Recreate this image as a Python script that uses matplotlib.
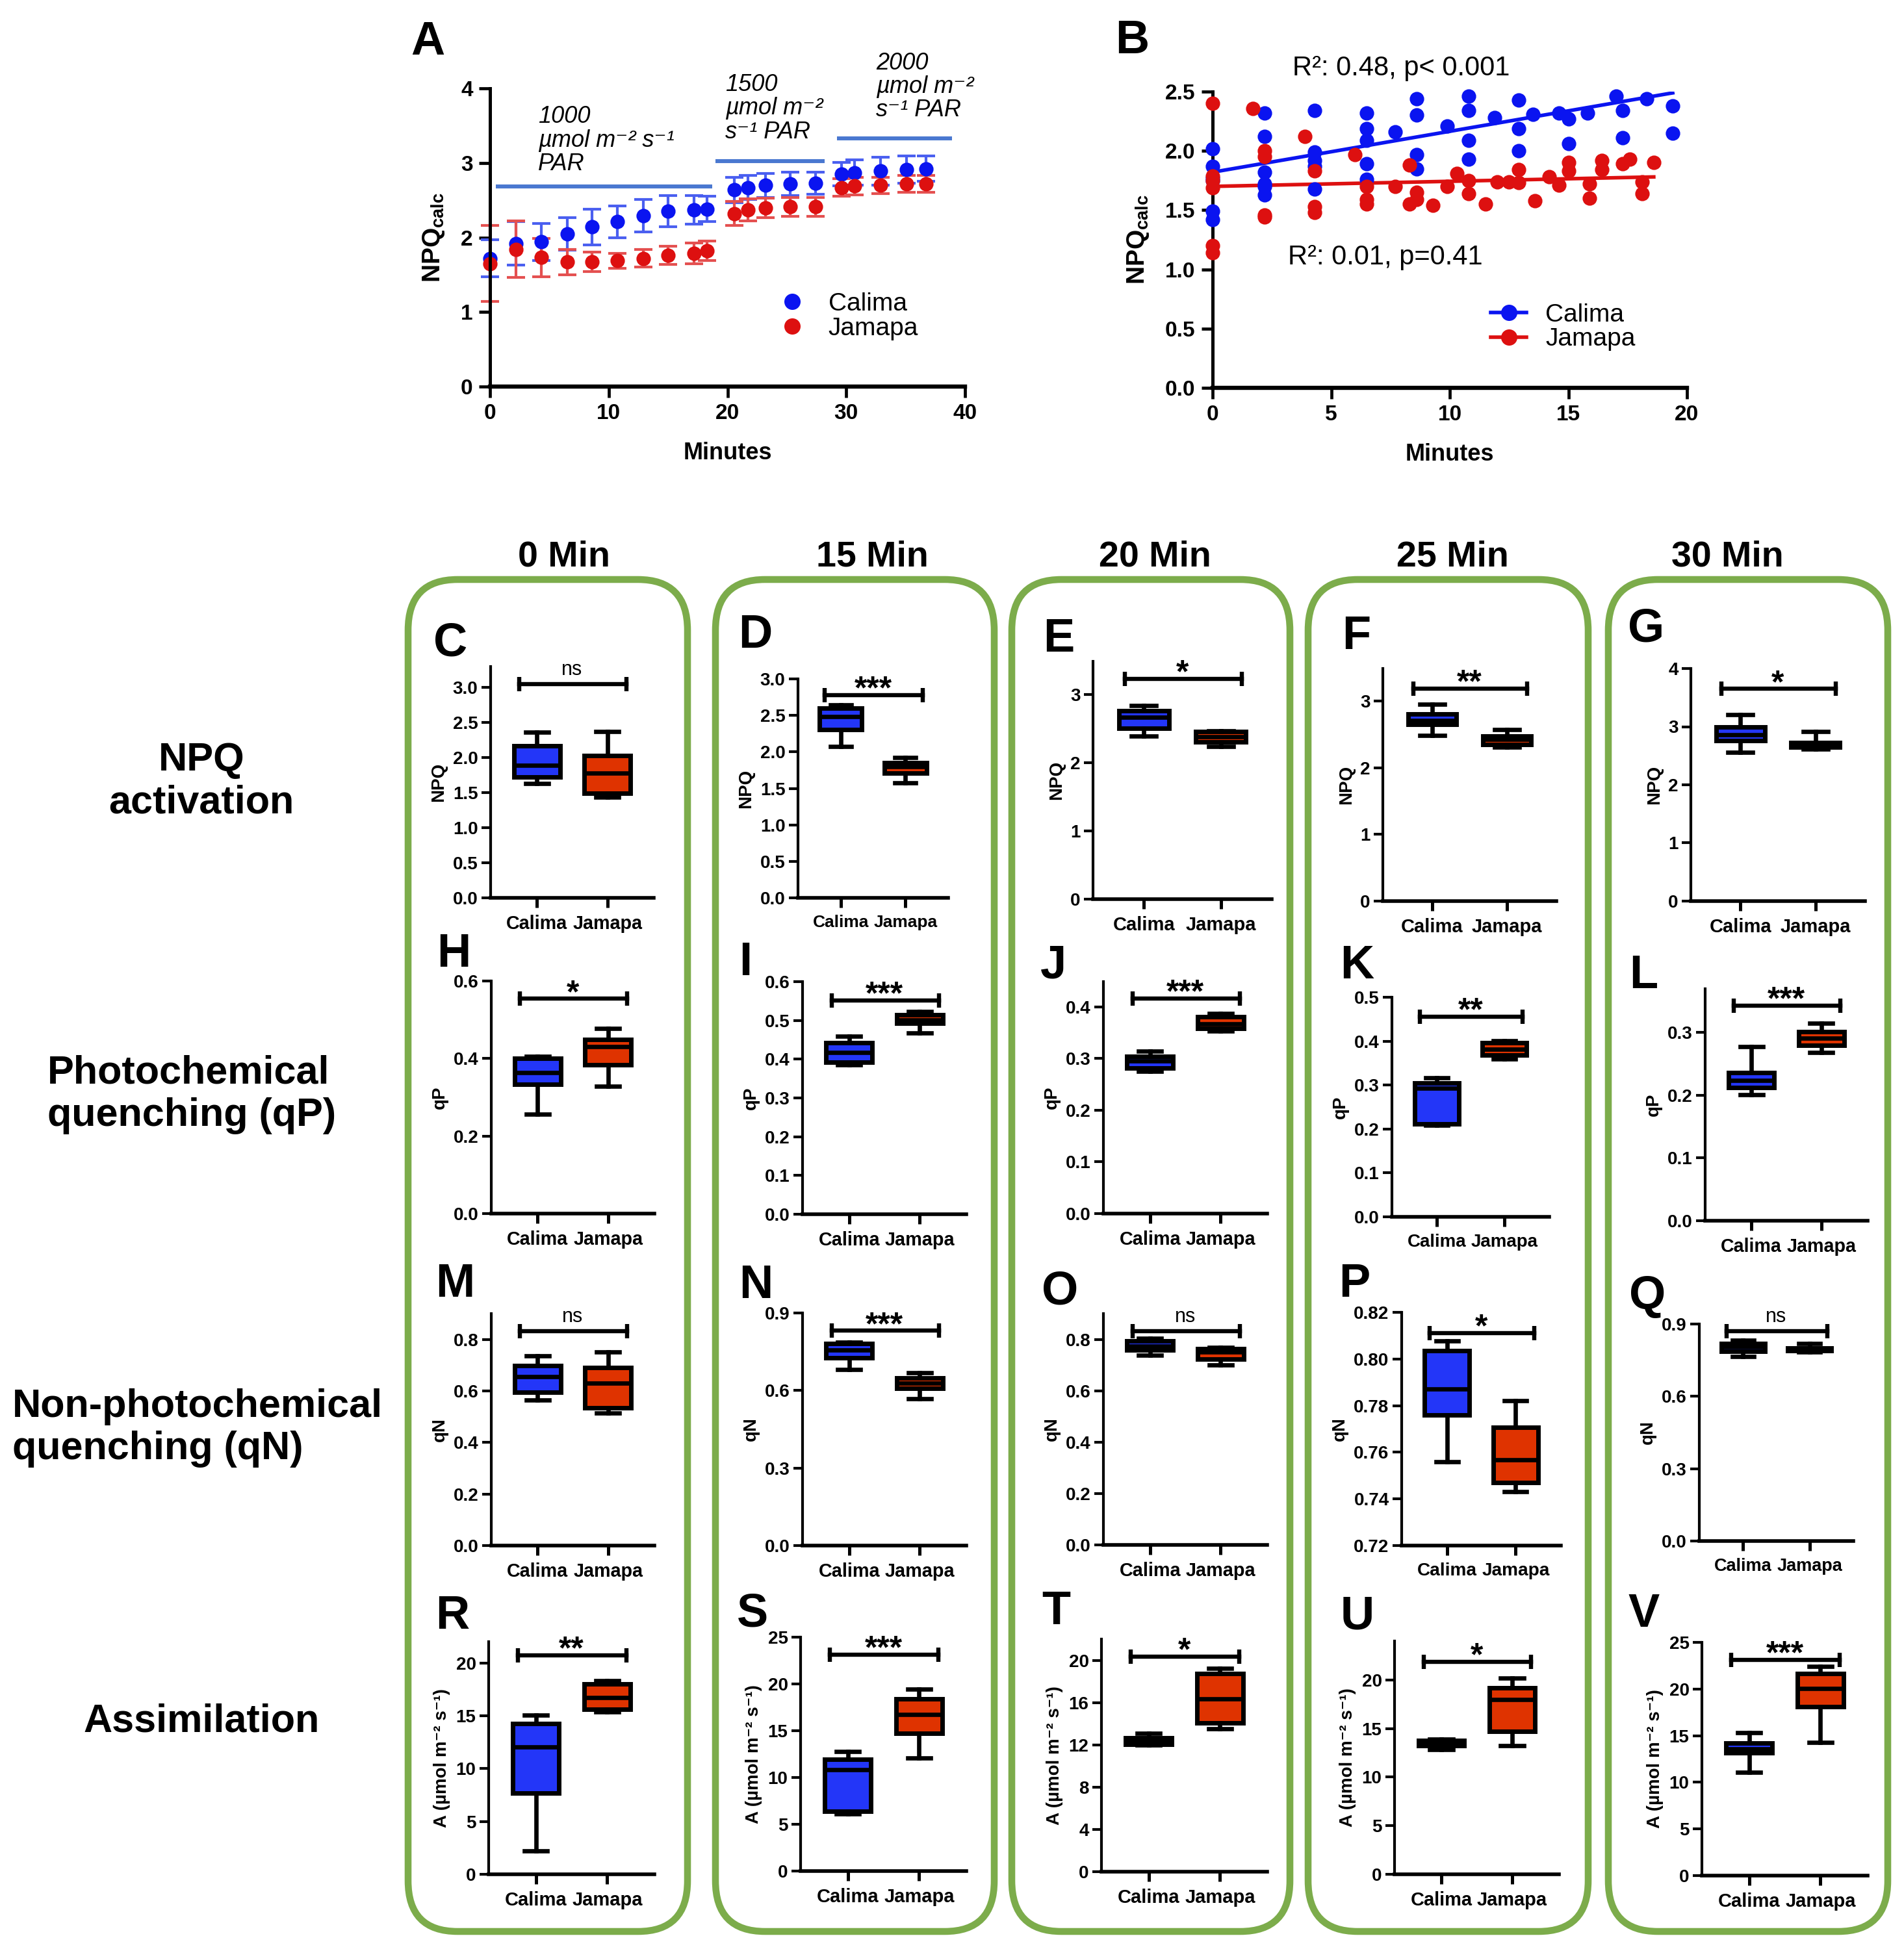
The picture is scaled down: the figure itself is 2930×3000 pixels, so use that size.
import numpy as np
import matplotlib
matplotlib.use('Agg')
import matplotlib.pyplot as plt
from matplotlib.lines import Line2D
from matplotlib.patches import FancyBboxPatch
from matplotlib.ticker import FormatStrFormatter

plt.rcParams['font.family'] = ['Liberation Sans', 'DejaVu Sans']
plt.rcParams['mathtext.fontset'] = 'custom'
plt.rcParams['mathtext.rm'] = 'Liberation Sans'
plt.rcParams['mathtext.it'] = 'Liberation Sans:italic'
plt.rcParams['mathtext.bf'] = 'Liberation Sans:bold'

# ---------------- data ----------------
# panel A: NPQ induction, mean +- error
time_a = [0, 2.2, 4.3, 6.5, 8.6, 10.7, 12.9, 15.0, 17.2, 18.3,
          20.6, 21.7, 23.2, 25.3, 27.4, 29.6, 30.7, 32.9, 35.1, 36.7]
calima_a = [1.72, 1.92, 1.94, 2.05, 2.14, 2.21, 2.29, 2.35, 2.37, 2.38,
            2.64, 2.67, 2.70, 2.72, 2.73, 2.85, 2.87, 2.89, 2.91, 2.92]
calima_a_err = [0.25, 0.29, 0.25, 0.22, 0.24, 0.21, 0.22, 0.21, 0.19, 0.17,
                0.17, 0.16, 0.16, 0.16, 0.15, 0.16, 0.17, 0.19, 0.18, 0.17]
jamapa_a = [1.65, 1.84, 1.73, 1.67, 1.67, 1.69, 1.72, 1.76, 1.79, 1.82,
            2.32, 2.37, 2.40, 2.41, 2.41, 2.67, 2.69, 2.70, 2.72, 2.72]
jamapa_a_err = [0.51, 0.38, 0.26, 0.17, 0.13, 0.10, 0.12, 0.12, 0.14, 0.13,
                0.16, 0.15, 0.13, 0.13, 0.13, 0.12, 0.12, 0.11, 0.11, 0.11]
par_start = [0.5, 19.0, 29.2]
par_end = [18.7, 28.2, 38.9]
par_level = [2.68, 3.02, 3.33]
par_text = ['1000\nµmol m⁻² s⁻¹\nPAR', '1500\nµmol m⁻²\ns⁻¹ PAR', '2000\nµmol m⁻²\ns⁻¹ PAR']
par_text_x = [4.06, 19.8, 32.5]
par_text_y = [3.77, 4.20, 4.49]

# panel B: individual NPQ values vs time
calima_b_t = [0, 0, 0, 0, 0, 0, 2.2, 2.2, 2.2, 2.2, 2.2, 2.2, 4.3, 4.3, 4.3, 4.3, 4.3,
              6.5, 6.5, 6.5, 6.5, 6.5, 7.7, 8.6, 8.6, 8.6, 8.6, 9.9, 10.8, 10.8, 10.8, 10.8,
              11.9, 12.9, 12.9, 12.9, 13.5, 14.6, 15.0, 15.0, 15.8, 17.0, 17.3, 17.3, 18.3,
              19.4, 19.4]
calima_b = [2.02, 1.87, 1.77, 1.75, 1.49, 1.42, 2.32, 2.12, 1.82, 1.72, 1.70, 1.63,
            2.34, 1.99, 1.92, 1.87, 1.68, 2.32, 2.19, 2.09, 1.89, 1.76, 2.16, 2.44, 2.30,
            1.97, 1.85, 2.21, 2.46, 2.34, 2.09, 1.93, 2.28, 2.43, 2.19, 2.00, 2.31, 2.32,
            2.27, 2.06, 2.32, 2.46, 2.34, 2.11, 2.44, 2.38, 2.15]
jamapa_b_t = [0, 0, 0, 0, 0, 0, 1.7, 2.2, 2.2, 2.2, 2.2, 3.9, 4.3, 4.3, 4.3, 6.0,
              6.5, 6.5, 6.5, 7.7, 8.3, 8.3, 8.6, 8.6, 9.3, 9.9, 10.3, 10.8, 10.8, 11.5,
              12.0, 12.5, 12.9, 12.9, 13.6, 14.2, 14.6, 15.0, 15.0, 15.9, 15.9, 16.4, 16.4,
              17.3, 17.6, 18.1, 18.1, 18.6]
jamapa_b = [2.40, 1.79, 1.75, 1.69, 1.20, 1.14, 2.36, 2.00, 1.95, 1.46, 1.44, 2.12,
            1.83, 1.53, 1.48, 1.97, 1.70, 1.59, 1.55, 1.70, 1.88, 1.55, 1.65, 1.59, 1.54,
            1.70, 1.81, 1.75, 1.64, 1.55, 1.74, 1.74, 1.84, 1.73, 1.58, 1.78, 1.71, 1.90,
            1.83, 1.72, 1.60, 1.92, 1.84, 1.89, 1.93, 1.74, 1.64, 1.90]
fit_intercept = [1.82, 1.70]
fit_slope = [0.0345, 0.0043]
fit_text = ['R²: 0.48, p< 0.001', 'R²: 0.01, p=0.41']

# panels C-V: box stats [whisker low, q1, median, q3, whisker high]
times = ['0 Min', '15 Min', '20 Min', '25 Min', '30 Min']
cultivars = ['Calima', 'Jamapa']
npq_calima = [[1.63, 1.72, 1.89, 2.17, 2.36], [2.07, 2.31, 2.48, 2.60, 2.64],
              [2.39, 2.51, 2.67, 2.77, 2.84], [2.49, 2.65, 2.71, 2.81, 2.95],
              [2.56, 2.76, 2.86, 2.99, 3.21]]
npq_jamapa = [[1.44, 1.49, 1.78, 2.03, 2.37], [1.58, 1.71, 1.80, 1.85, 1.92],
              [2.24, 2.31, 2.38, 2.46, 2.47], [2.31, 2.35, 2.43, 2.48, 2.57],
              [2.61, 2.65, 2.70, 2.73, 2.92]]
qp_calima = [[0.256, 0.334, 0.363, 0.400, 0.406], [0.386, 0.392, 0.418, 0.443, 0.459],
             [0.276, 0.282, 0.296, 0.304, 0.314], [0.209, 0.212, 0.293, 0.305, 0.317],
             [0.2006, 0.2115, 0.223, 0.2355, 0.277]]
qp_jamapa = [[0.329, 0.383, 0.430, 0.449, 0.477], [0.468, 0.493, 0.501, 0.515, 0.523],
             [0.354, 0.358, 0.367, 0.381, 0.387], [0.360, 0.369, 0.381, 0.396, 0.401],
             [0.268, 0.279, 0.290, 0.301, 0.314]]
qn_calima = [[0.564, 0.595, 0.656, 0.699, 0.735], [0.681, 0.7275, 0.756, 0.781, 0.7875],
             [0.739, 0.758, 0.774, 0.793, 0.803], [0.7560, 0.7760, 0.7871, 0.8037, 0.8077],
             [0.764, 0.788, 0.806, 0.8195, 0.833]]
qn_jamapa = [[0.514, 0.534, 0.630, 0.691, 0.752], [0.568, 0.608, 0.6275, 0.6475, 0.669],
             [0.700, 0.724, 0.751, 0.764, 0.768], [0.7431, 0.7471, 0.7569, 0.7708, 0.7820],
             [0.784, 0.790, 0.7955, 0.799, 0.8195]]
a_calima = [[2.23, 7.66, 12.04, 14.27, 15.08], [6.13, 6.38, 10.80, 11.92, 12.76],
            [11.96, 12.07, 12.35, 12.68, 13.07], [12.86, 13.21, 13.45, 13.74, 13.93],
            [11.10, 13.16, 13.56, 14.20, 15.32]]
a_jamapa = [[15.36, 15.58, 16.74, 17.99, 18.31], [12.09, 14.70, 16.73, 18.42, 19.41],
            [13.55, 14.05, 16.35, 18.73, 19.23], [13.21, 14.69, 17.98, 19.17, 20.17],
            [14.25, 18.12, 20.03, 21.65, 22.39]]
npq_sig = ['ns', '***', '*', '**', '*']
qp_sig = ['*', '***', '***', '**', '***']
qn_sig = ['ns', '***', 'ns', '*', 'ns']
a_sig = ['**', '***', '*', '*', '***']

row_names = ['NPQ\nactivation', 'Photochemical\nquenching (qP)',
             'Non-photochemical\nquenching (qN)', 'Assimilation']
row_ylabels = ['NPQ', 'qP', 'qN', 'A (µmol m⁻² s⁻¹)']
letters = ['CDEFG', 'HIJKL', 'MNOPQ', 'RSTUV']

# ---------------- layout (pixels of the 2930x3000 output) ----------------
W, H = 2930, 3000
BLUE, RED = '#2336f8', '#df3300'
DOT_BLUE, DOT_RED = '#0a14f0', '#dd1010'
GREEN = '#7cac4b'

fig = plt.figure(figsize=(W / 200, H / 200), dpi=200)


def rect(x0, x1, y0, y1):
    return [x0 / W, 1 - y0 / H, (x1 - x0) / W, (y0 - y1) / H]


def style_axes(ax, lw=1.6):
    for s in ['top', 'right']:
        ax.spines[s].set_visible(False)
    ax.spines['left'].set_linewidth(lw)
    ax.spines['bottom'].set_linewidth(lw + 0.5)


# green column frames
frame_x = [(623, 1063), (1096, 1535), (1552, 1990), (2008, 2449), (2470, 2910)]
for x0, x1 in frame_x:
    fb = FancyBboxPatch(((x0 + 5) / W, 1 - 2973 / H), (x1 - x0 - 10) / W, (2973 - 892) / H,
                        boxstyle='round,pad=0,rounding_size=0.026',
                        transform=fig.transFigure, facecolor='white', edgecolor=GREEN,
                        linewidth=3.8, zorder=0)
    fig.add_artist(fb)

title_x = [868, 1342, 1777, 2235, 2658]
for t, x in zip(times, title_x):
    fig.text(x / W, 1 - 858 / H, t, ha='center', va='center', fontsize=20, fontweight='bold')

fig.text(310 / W, 1 - 1203 / H, row_names[0], ha='center', va='center', fontsize=22,
         fontweight='bold', multialignment='center')
fig.text(73 / W, 1 - 1685 / H, row_names[1], ha='left', va='center', fontsize=22,
         fontweight='bold', multialignment='left')
fig.text(19 / W, 1 - 2198 / H, row_names[2], ha='left', va='center', fontsize=22,
         fontweight='bold', multialignment='left')
fig.text(310 / W, 1 - 2650 / H, row_names[3], ha='center', va='center', fontsize=22,
         fontweight='bold')

# ---------------- panel A ----------------
axA = fig.add_axes(rect(754, 1485, 595, 136))
axA.errorbar(time_a, calima_a, yerr=calima_a_err, fmt='o', color=DOT_BLUE, ecolor='#4a5ff0',
             ms=7, capsize=5, elinewidth=1.5, capthick=1.5, clip_on=False)
axA.errorbar(time_a, jamapa_a, yerr=jamapa_a_err, fmt='o', color=DOT_RED, ecolor='#e45050',
             ms=7, capsize=5, elinewidth=1.5, capthick=1.5, clip_on=False)
axA.hlines(par_level, par_start, par_end, color='#4a78d0', lw=2.2, clip_on=False)
for txt, x, y in zip(par_text, par_text_x, par_text_y):
    axA.text(x, y, txt, ha='left', va='top', fontsize=13, fontstyle='italic',
             linespacing=1.05, clip_on=False)
axA.set_xlim(0, 40)
axA.set_ylim(0, 4)
axA.set_xticks(np.arange(0, 41, 10))
axA.set_yticks(np.arange(0, 5, 1))
axA.tick_params(labelsize=12, width=1.7, length=6)
for lab in axA.get_xticklabels() + axA.get_yticklabels():
    lab.set_fontweight('bold')
axA.set_xlabel('Minutes', fontsize=13, fontweight='bold', labelpad=10)
axA.set_ylabel(r'$\mathbf{NPQ}_{\mathbf{calc}}$', fontsize=14, labelpad=8)
style_axes(axA, 1.8)
hA = [Line2D([], [], marker='o', ls='none', color=DOT_BLUE, ms=8),
      Line2D([], [], marker='o', ls='none', color=DOT_RED, ms=8)]
axA.legend(hA, cultivars, loc='center left', bbox_to_anchor=(0.561, 0.236), frameon=False,
           fontsize=14, handlelength=1.0, handletextpad=0.94, labelspacing=0.05, borderpad=0.4)
fig.text(632 / W, 1 - 31 / H, 'A', ha='left', va='top', fontsize=26, fontweight='bold')

# ---------------- panel B ----------------
axB = fig.add_axes(rect(1866, 2596, 597, 141))
axB.plot(calima_b_t, calima_b, 'o', color=DOT_BLUE, ms=7, clip_on=False, zorder=3)
axB.plot(jamapa_b_t, jamapa_b, 'o', color=DOT_RED, ms=7, clip_on=False, zorder=3)
for xs, b, m, c in zip([calima_b_t, jamapa_b_t], fit_intercept, fit_slope, [DOT_BLUE, DOT_RED]):
    xx = np.array([0, max(xs)])
    axB.plot(xx, b + m * xx, color=c, lw=2, zorder=2)
axB.text(3.36, 2.70, fit_text[0], ha='left', va='center', fontsize=15, clip_on=False)
axB.text(3.18, 1.10, fit_text[1], ha='left', va='center', fontsize=15)
axB.set_xlim(0, 20)
axB.set_ylim(0, 2.5)
axB.set_xticks(np.arange(0, 21, 5))
axB.set_yticks(np.arange(0, 2.51, 0.5))
axB.yaxis.set_major_formatter(FormatStrFormatter('%.1f'))
axB.tick_params(labelsize=12, width=1.7, length=6)
for lab in axB.get_xticklabels() + axB.get_yticklabels():
    lab.set_fontweight('bold')
axB.set_xlabel('Minutes', fontsize=13, fontweight='bold', labelpad=10)
axB.set_ylabel(r'$\mathbf{NPQ}_{\mathbf{calc}}$', fontsize=14, labelpad=8)
style_axes(axB, 1.8)
hB = [Line2D([], [], marker='o', ls='-', lw=2, color=DOT_BLUE, ms=8),
      Line2D([], [], marker='o', ls='-', lw=2, color=DOT_RED, ms=8)]
axB.legend(hB, cultivars, loc='center left', bbox_to_anchor=(0.539, 0.205), frameon=False,
           fontsize=14, handlelength=1.4, handletextpad=0.75, labelspacing=0.05, borderpad=0.4)
fig.text(1716 / W, 1 - 29 / H, 'B', ha='left', va='top', fontsize=26, fontweight='bold')

# ---------------- panels C-V ----------------
# axes rectangles: spine x, right end x, y of baseline, y of top
box_rects = [
    [(755, 1006, 1382, 1026), (1228, 1459, 1382, 1045), (1682, 1957, 1384, 1018),
     (2128, 2395, 1387, 1029), (2602, 2870, 1387, 1029)],
    [(756, 1007, 1868, 1510), (1235, 1487, 1869, 1511), (1698, 1950, 1868, 1511),
     (2142, 2384, 1873, 1535), (2624, 2874, 1879, 1522)],
    [(756, 1007, 2379, 2022), (1235, 1487, 2379, 2021), (1698, 1950, 2378, 2022),
     (2157, 2402, 2379, 2020), (2615, 2852, 2372, 2038)],
    [(752, 1007, 2885, 2527), (1232, 1487, 2880, 2520), (1695, 1950, 2881, 2523),
     (2146, 2399, 2885, 2526), (2619, 2874, 2887, 2528)],
]
# y limits and tick steps
box_ylims = [
    [(0, 3.30), (0, 3.0), (0, 3.49), (0, 3.49), (0, 4.0)],
    [(0, 0.6), (0, 0.6), (0, 0.449), (0, 0.5), (0, 0.369)],
    [(0, 0.9), (0, 0.9), (0, 0.9), (0.72, 0.82), (0, 0.9)],
    [(0, 22), (0, 25), (0, 22), (0, 24), (0, 25)],
]
box_ticks = [
    [(0, 3.0, 0.5), (0, 3.0, 0.5), (0, 3, 1), (0, 3, 1), (0, 4, 1)],
    [(0, 0.6, 0.2), (0, 0.6, 0.1), (0, 0.4, 0.1), (0, 0.5, 0.1), (0, 0.3, 0.1)],
    [(0, 0.8, 0.2), (0, 0.9, 0.3), (0, 0.8, 0.2), (0.72, 0.82, 0.02), (0, 0.9, 0.3)],
    [(0, 20, 5), (0, 25, 5), (0, 20, 4), (0, 20, 5), (0, 25, 5)],
]
box_fmt = [['%.1f', '%.1f', '%d', '%d', '%d'],
           ['%.1f'] * 5,
           ['%.1f', '%.1f', '%.1f', '%.2f', '%.1f'],
           ['%d'] * 5]
bracket_y = [[3.05, 2.78, 3.23, 3.19, 3.65],
             [0.554, 0.552, 0.416, 0.456, 0.342],
             [0.833, 0.831, 0.833, 0.8111, 0.870],
             [20.72, 23.14, 20.37, 21.86, 23.14]]
letter_pos = [[(667, 956), (1136, 944), (1605, 950), (2065, 946), (2505, 934)],
              [(672, 1435), (1137, 1448), (1601, 1452), (2062, 1453), (2507, 1468)],
              [(670, 1943), (1137, 1945), (1603, 1955), (2060, 1943), (2507, 1962)],
              [(670, 2454), (1134, 2451), (1603, 2447), (2063, 2454), (2505, 2451)]]

rows = [(npq_calima, npq_jamapa, npq_sig), (qp_calima, qp_jamapa, qp_sig),
        (qn_calima, qn_jamapa, qn_sig), (a_calima, a_jamapa, a_sig)]
XLIM = (0.34, 2.66)

for r, (cal_rows, jam_rows, sigs) in enumerate(rows):
    for c in range(5):
        x0, x1, y0, y1 = box_rects[r][c]
        ax = fig.add_axes(rect(x0, x1, y0, y1))
        stats = []
        for vals in (cal_rows[c], jam_rows[c]):
            stats.append(dict(whislo=vals[0], q1=vals[1], med=vals[2], q3=vals[3],
                              whishi=vals[4], fliers=[]))
        bp = ax.bxp(stats, positions=[1, 2], widths=0.65, patch_artist=True,
                    showfliers=False, manage_ticks=False,
                    boxprops=dict(linewidth=2.5, edgecolor='black'),
                    whiskerprops=dict(linewidth=2.4, color='black'),
                    capprops=dict(linewidth=2.4, color='black'),
                    medianprops=dict(linewidth=2.4, color='black'))
        for patch, col in zip(bp['boxes'], [BLUE, RED]):
            patch.set_facecolor(col)
        ax.set_xlim(*XLIM)
        ax.set_ylim(*box_ylims[r][c])
        t0, t1, st = box_ticks[r][c]
        ax.set_yticks(np.arange(t0, t1 + st / 2, st))
        ax.yaxis.set_major_formatter(FormatStrFormatter(box_fmt[r][c]))
        ax.set_xticks([1, 2])
        ax.set_xticklabels(cultivars)
        # shrink the category labels where the two ticks sit close together
        spacing_px = (x1 - x0) / (XLIM[1] - XLIM[0])
        xfs = min(10.5, spacing_px * 0.93 / 3.5 * 72 / 200)
        ax.tick_params(axis='y', labelsize=10, width=1.5, length=5, pad=2)
        ax.tick_params(axis='x', labelsize=xfs, width=1.8, length=5.5, pad=4)
        for lab in ax.get_xticklabels() + ax.get_yticklabels():
            lab.set_fontweight('bold')
        ax.set_ylabel(row_ylabels[r], fontsize=10, fontweight='bold', labelpad=3)
        style_axes(ax, 1.5)

        # significance bracket
        yb = bracket_y[r][c]
        ax.plot([0.75, 2.27], [yb, yb], color='black', lw=2.3, clip_on=False)
        ax.plot([0.75, 2.27], [yb, yb], ls='none', marker='|', ms=8, mew=2.3,
                color='black', clip_on=False)
        if sigs[c] == 'ns':
            ax.annotate('ns', (1.5, yb), xytext=(0, 5), textcoords='offset points',
                        ha='center', va='baseline', fontsize=11, annotation_clip=False)
        else:
            ax.annotate(sigs[c], (1.5, yb), xytext=(0, -2), textcoords='offset points',
                        ha='center', va='baseline', fontsize=18, fontweight='bold',
                        annotation_clip=False)

        lx, ly = letter_pos[r][c]
        fig.text(lx / W, 1 - ly / H, letters[r][c], ha='left', va='top', fontsize=26,
                 fontweight='bold')

fig.savefig('out.png', dpi=200)
